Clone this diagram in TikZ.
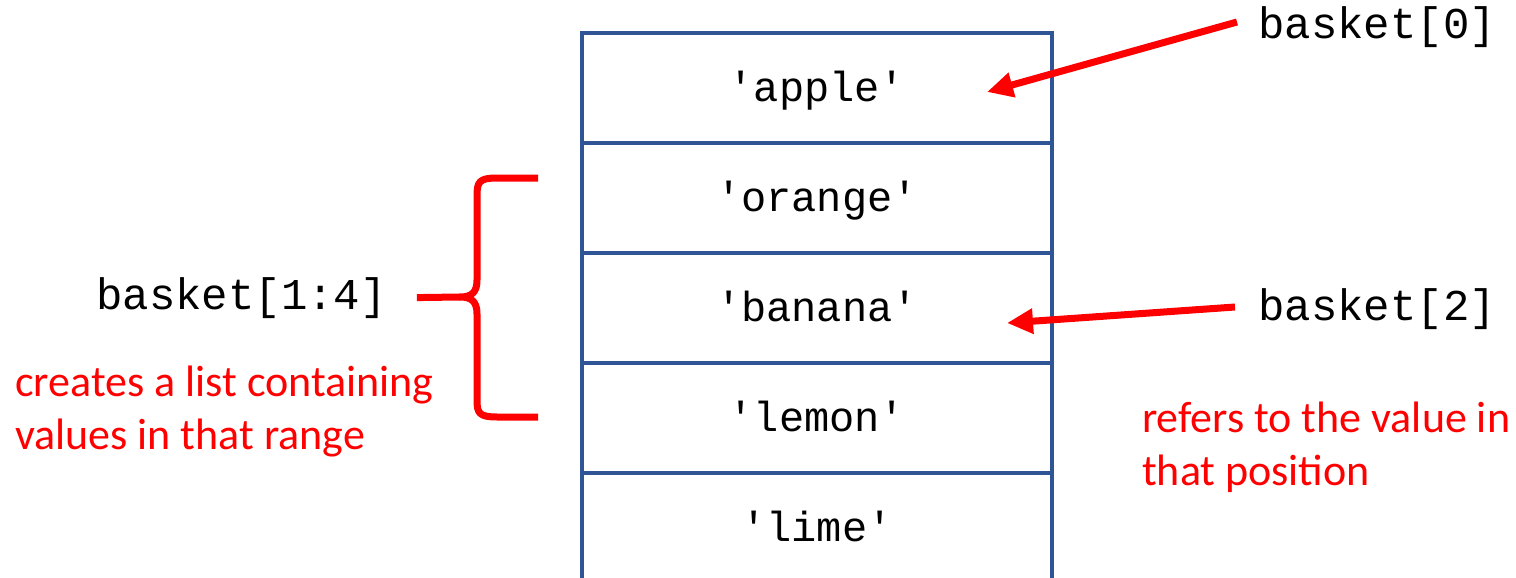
\documentclass[tikz,border=0pt]{standalone}
\usepackage{fontspec}
\newfontfamily\codefont{Liberation Mono}
\newfontfamily\notefont{Carlito}
\usetikzlibrary{positioning,arrows.meta}
\definecolor{BoxBlue}{HTML}{2F5597}
\definecolor{NoteRed}{HTML}{FF0000}
\tikzset{%
	% Style of a list cell
	Cell/.style={rectangle,draw=BoxBlue,line width=3.5pt,minimum width=470pt,minimum height=110pt,inner sep=0,outer sep=0,text height=32pt,text depth=6pt,font={\codefont\fontsize{42}{50}\selectfont}},
	% Style of the index labels
	IndexName/.style={font={\codefont\fontsize{44}{52}\selectfont},black,anchor=west,inner sep=0},
	% Style of the red notes
	NoteText/.style={font={\notefont\fontsize{44}{53}\selectfont},NoteRed,align=left,anchor=west,inner sep=0},
	% Style of the pointer arrows
	Pointer/.style={draw=NoteRed,line width=7pt,-{Triangle[length=26pt,width=24pt]}},
	% Style of the brace
	Brace/.style={draw=NoteRed,line width=7pt,line join=round},
}
\begin{document}
\begin{tikzpicture}[x=1pt,y=-1pt] % STYLES
\useasboundingbox (0,0) rectangle (1516,578);
\clip (0,0) rectangle (1516,578);

%~~~~~~~~~~~~~~~~~~~~~~~~~~~~~~~~~~~~~~~~~~~~~~~~~~
% Set Cells
%~~~~~~~~~~~~~~~~~~~~~~~~~~~~~~~~~~~~~~~~~~~~~~~~~~
\node[Cell] (C0) at (817, 88) {'apple'};
\node[Cell, below=0pt of C0] (C1) {'orange'};
\node[Cell, below=0pt of C1] (C2) {'banana'};
\node[Cell, below=0pt of C2] (C3) {'lemon'};
\node[Cell, below=0pt of C3] (C4) {'lime'};

%~~~~~~~~~~~~~~~~~~~~~~~~~~~~~~~~~~~~~~~~~~~~~~~~~~
% Set Labels
%~~~~~~~~~~~~~~~~~~~~~~~~~~~~~~~~~~~~~~~~~~~~~~~~~~
\node[IndexName] (B0) at (1258, 27) {basket[0]};
\node[IndexName] (B2) at (1258, 309) {basket[2]};
\node[IndexName] (B14) at (96, 298) {basket[1:4]};

\node[NoteText] (NoteRange) at (15, 412) {creates a list containing\\values in that range};
\node[NoteText] (NoteValue) at (1142, 447) {refers to the value in\\that position};

%~~~~~~~~~~~~~~~~~~~~~~~~~~~~~~~~~~~~~~~~~~~~~~~~~~
% Set Pointers
%~~~~~~~~~~~~~~~~~~~~~~~~~~~~~~~~~~~~~~~~~~~~~~~~~~
\coordinate (T0) at (987, 92);
\coordinate (T2) at (1007, 323);
\draw[Pointer] ([xshift=-21pt,yshift=5pt]B0.west) -- (T0);
\draw[Pointer] ([xshift=-23pt,yshift=2pt]B2.west) -- (T2);

%Brace round cells 1 to 3
\coordinate (BraceTip) at (460, 297);
\draw[Brace] (538, 178) -- (497, 178) .. controls (479, 178) and (477, 182) .. (477, 196)
  -- (477, 280) .. controls (477, 292) and (472, 297) .. (BraceTip)
  .. controls (472, 297) and (477, 302) .. (477, 314)
  -- (477, 400) .. controls (477, 413) and (479, 417) .. (497, 417) -- (538, 417);
\draw[Brace, shorten <=30pt] (B14.east) -- (BraceTip);

\end{tikzpicture}
\end{document}
